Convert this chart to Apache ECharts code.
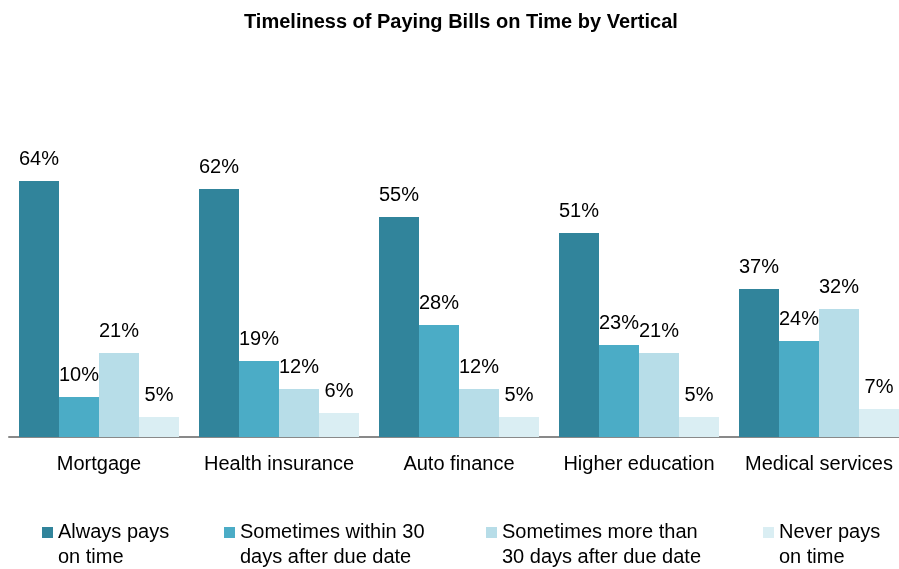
<!DOCTYPE html>
<html>
<head>
<meta charset="utf-8">
<script src="https://cdn.jsdelivr.net/npm/echarts@6/dist/echarts.min.js"></script>
<style>
  html, body { margin: 0; padding: 0; background: #fff; overflow: hidden; }
  #chart { width: 909px; height: 569px; }
</style>
</head>
<body>
<div id="chart"></div>
<script>
var categories = ['Mortgage', 'Health insurance', 'Auto finance', 'Higher education', 'Medical services'];
var seriesNames = ['Always pays on time', 'Sometimes within 30 days after due date', 'Sometimes more than 30 days after due date', 'Never pays on time'];
var legendLabels = ['Always pays\non time', 'Sometimes within 30\ndays after due date', 'Sometimes more than\n30 days after due date', 'Never pays\non time'];
var alwaysPays = [64, 62, 55, 51, 37];
var within30 = [10, 19, 28, 23, 24];
var moreThan30 = [21, 12, 12, 21, 32];
var neverPays = [5, 6, 5, 5, 7];
var colors = ['#31849B', '#4BACC6', '#B7DDE8', '#DAEEF3'];
var legendLeft = [42, 224, 486, 763];

var font = 'Liberation Sans, Arial, sans-serif';
var myChart = echarts.init(document.getElementById('chart'));

function makeSeries(idx, values) {
  return {
    name: seriesNames[idx],
    type: 'bar',
    data: values,
    barWidth: 40,
    barGap: '0%',
    itemStyle: { color: colors[idx] },
    label: {
      show: true,
      position: 'top',
      distance: 12,
      formatter: '{c}%',
      color: '#000',
      fontSize: 20,
      fontFamily: font
    }
  };
}

// blank first line keeps the marker level with the first text line
var legends = seriesNames.map(function (n, i) {
  return {
    data: [n],
    left: legendLeft[i],
    top: 495,
    padding: 0,
    itemWidth: 11,
    itemHeight: 11,
    icon: 'rect',
    formatter: function () { return '\n' + legendLabels[i]; },
    textStyle: {
      fontSize: 20,
      fontFamily: font,
      color: '#000',
      lineHeight: 25
    }
  };
});

var option = {
  animation: false,
  title: {
    text: 'Timeliness of Paying Bills on Time by Vertical',
    left: 239,
    top: 7,
    textStyle: { fontSize: 20, fontWeight: 'bold', fontFamily: font, color: '#000' }
  },
  legend: legends,
  grid: { left: 9, right: 0, top: 117, bottom: 132 },
  xAxis: {
    type: 'category',
    data: categories,
    axisLine: { lineStyle: { color: '#898989', width: 2 } },
    axisTick: { show: false },
    axisLabel: { interval: 0, fontSize: 20, fontFamily: font, color: '#000', margin: 17 }
  },
  yAxis: {
    type: 'value',
    min: 0,
    max: 80,
    show: false
  },
  series: [
    makeSeries(0, alwaysPays),
    makeSeries(1, within30),
    makeSeries(2, moreThan30),
    makeSeries(3, neverPays)
  ]
};
option && myChart.setOption(option);
</script>
</body>
</html>
